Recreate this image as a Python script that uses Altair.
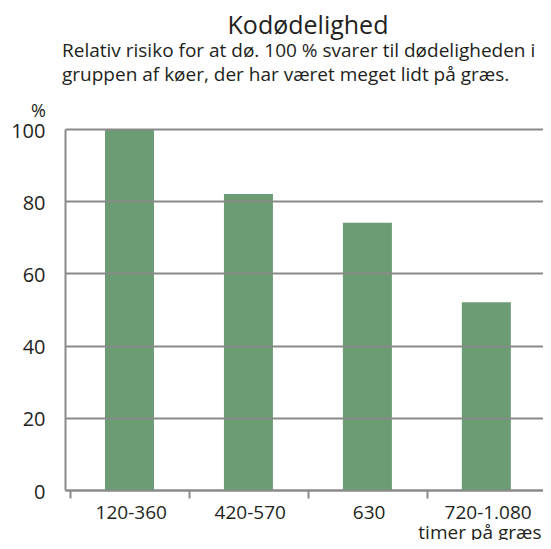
import altair as alt
import pandas as pd

# Data
categories = ["120-360", "420-570", "630", "720-1.080"]
values = [100, 82, 74, 52]
y_ticks = [0, 20, 40, 60, 80, 100]

title_text = "Kodødelighed"
subtitle_lines = [
    "Relativ risiko for at dø. 100 % svarer til dødeligheden i",
    "gruppen af køer, der har været meget lidt på græs.",
]
x_title = "timer på græs"
y_title = "%"

df = pd.DataFrame({
    "kategori": categories,
    "pos": [i + 0.5 for i in range(len(categories))],
    "vaerdi": values,
})

GRAY = "#8a8a8a"
GREEN = "#6b9c74"
TEXT = "#231f20"
FONT = "Open Sans"

n = len(categories)
band_px = 121.5          # width of one category band in pixels
W, H = 478, 361          # plot area (right end clipped like the reference)
x_max = W / band_px

label_expr = (
    "datum.value < " + str(n) + " ? "
    + "[" + ",".join("'" + c + "'" for c in categories) + "][datum.value] : ''"
)

bars = alt.Chart(df).mark_bar(size=49, color=GREEN).encode(
    x=alt.X(
        "pos:Q",
        scale=alt.Scale(domain=[0, x_max], nice=False, zero=False),
        axis=alt.Axis(
            values=list(range(n)),
            labelExpr=label_expr,
            labelOffset=band_px / 2,
            labelFlush=False,
            labelOverlap=False,
            labelBound=False,
            labelFont=FONT,
            labelFontSize=19,
            labelColor=TEXT,
            labelPadding=5,
            grid=False,
            domainColor=GRAY,
            domainWidth=2,
            tickColor=GRAY,
            tickWidth=2,
            tickSize=8,
            title=x_title,
            titleFont=FONT,
            titleFontSize=19,
            titleFontWeight="normal",
            titleColor=TEXT,
            titleAlign="right",
            titleAnchor="start",
            titleBaseline="alphabetic",
            titleX=476,
            titleY=48,
        ),
    ),
    y=alt.Y(
        "vaerdi:Q",
        scale=alt.Scale(domain=[0, 100], nice=False),
        axis=alt.Axis(
            values=y_ticks,
            grid=True,
            gridColor=GRAY,
            gridWidth=2,
            domainColor=GRAY,
            domainWidth=2,
            ticks=False,
            labelFont=FONT,
            labelFontSize=20,
            labelColor=TEXT,
            labelPadding=20,
            labelOffset=2,
            zindex=1,
            title=y_title,
            titleFont=FONT,
            titleFontSize=18,
            titleFontWeight="normal",
            titleColor=TEXT,
            titleAngle=0,
            titleAlign="center",
            titleBaseline="alphabetic",
            titleX=-27,
            titleY=-13,
        ),
    ),
)

head = alt.Chart(pd.DataFrame({"t": [title_text]})).mark_text(
    font=FONT, fontSize=25, color=TEXT, align="center", baseline="alphabetic"
).encode(text="t:N", x=alt.value(243), y=alt.value(-95))

sub = alt.Chart(pd.DataFrame({"t": [subtitle_lines]})).mark_text(
    font=FONT, fontSize=19, color=TEXT, align="left", baseline="alphabetic",
    lineHeight=24,
).encode(text="t", x=alt.value(-3), y=alt.value(-72))

chart = alt.layer(bars, head, sub).properties(
    width=W,
    height=H,
    autosize=alt.AutoSizeParams(type="none"),
    padding={"left": 57, "top": 121, "right": 0, "bottom": 50},
).configure_view(strokeWidth=0)

chart.save("out.html", embed_options={"renderer": "svg", "actions": False})
